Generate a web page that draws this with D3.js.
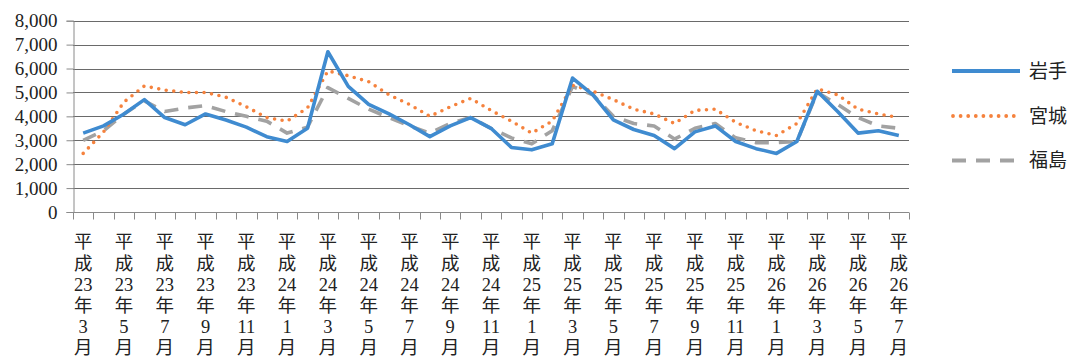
<!DOCTYPE html>
<html>
<head>
<meta charset="utf-8">
<script src="https://cdn.jsdelivr.net/npm/d3@7"></script>
<style>
  body { margin: 0; background: #fff; }
  text { font-family: "Liberation Serif", "Noto Sans CJK JP", serif; fill: #222; }
</style>
</head>
<body>
<svg id="chart" width="1072" height="359"></svg>
<script>
// months: 平成23年3月 .. 平成26年7月
const months = [];
for (let yr = 23; yr <= 26; yr++) {
    for (let m = 1; m <= 12; m++) {
        if ((yr === 23 && m < 3) || (yr === 26 && m > 7)) continue;
        months.push({ year: yr, month: m });
    }
}

const iwate = [3300, 3600, 4100, 4700, 3950, 3650, 4100, 3850, 3550, 3150, 2950, 3500,
    6700, 5250, 4500, 4100, 3650, 3150, 3600, 3950, 3500, 2700, 2600, 2850,
    5600, 4900, 3850, 3450, 3200, 2650, 3350, 3600, 2950, 2650, 2450, 2950,
    5050, 4200, 3300, 3400, 3200];
const miyagi = [2450, 3350, 4600, 5270, 5100, 5000, 5000, 4800, 4400, 3950, 3800, 4350,
    5900, 5700, 5450, 4900, 4500, 4000, 4400, 4750, 4250, 3800, 3300, 3800,
    5300, 5050, 4700, 4300, 4100, 3700, 4250, 4300, 3750, 3400, 3200, 3700,
    5150, 4900, 4300, 4100, 3950];
const fukushima = [3000, 3400, 4100, 4650, 4200, 4350, 4450, 4200, 4000, 3800, 3300, 3550,
    5200, 4750, 4300, 3950, 3600, 3300, 3700, 3950, 3500, 3100, 2850, 3400,
    5250, 4900, 4000, 3700, 3600, 3050, 3500, 3700, 3100, 2900, 2900, 2950,
    5000, 4500, 3950, 3600, 3500];

const yTicks = [0, 1000, 2000, 3000, 4000, 5000, 6000, 7000, 8000];

const series = [
    { name: "岩手", values: iwate, color: "#3f8bd0", dash: null, cap: "butt" },
    { name: "宮城", values: miyagi, color: "#f5823d", dash: "0,7.6", cap: "round" },
    { name: "福島", values: fukushima, color: "#a2a2a2", dash: "14,10", cap: "butt" }
];

const svg = d3.select("#chart");
const plotLeft = 73, plotRight = 909, plotTop = 20.7, plotBottom = 212;

const x = d3.scaleBand()
    .domain(d3.range(months.length))
    .range([plotLeft, plotRight])
    .paddingInner(0).paddingOuter(0);

const y = d3.scaleLinear()
    .domain([0, 8000])
    .range([plotBottom, plotTop]);

// gridlines
svg.append("g")
    .selectAll("line")
    .data(yTicks.filter(d => d > 0))
    .enter()
    .append("line")
    .attr("x1", plotLeft)
    .attr("x2", plotRight)
    .attr("y1", d => Math.round(y(d)) + 0.5)
    .attr("y2", d => Math.round(y(d)) + 0.5)
    .attr("stroke", "#6a6a6a")
    .attr("stroke-width", 1);

// y axis
const yAxis = svg.append("g")
    .attr("transform", "translate(" + (plotLeft + 0.5) + ",0)")
    .call(d3.axisLeft(y).tickValues(yTicks).tickSize(7).tickPadding(9)
        .tickFormat(d3.format(",")));
yAxis.selectAll("path, line").attr("stroke", "#8a8a8a");
yAxis.selectAll("text").style("font-size", "19px").attr("fill", "#222");

// x axis
const xAxisG = svg.append("g")
    .attr("transform", "translate(0," + (Math.round(plotBottom) + 0.5) + ")");
xAxisG.append("line")
    .attr("x1", plotLeft).attr("x2", plotRight)
    .attr("stroke", "#8a8a8a");
xAxisG.selectAll("line.tick")
    .data(d3.range(months.length + 1))
    .enter()
    .append("line")
    .attr("class", "tick")
    .attr("x1", d => Math.round(plotLeft + d * x.step()) + 0.5)
    .attr("x2", d => Math.round(plotLeft + d * x.step()) + 0.5)
    .attr("y1", 0)
    .attr("y2", 7)
    .attr("stroke", "#8a8a8a");

// x labels, vertical stack, every 2 months
const labelRows = d => ["平", "成", String(d.year), "年", String(d.month), "月"];
const labelG = svg.append("g");
months.forEach(function (m, i) {
    if (i % 2 !== 0) return;
    const cx = x(i) + x.bandwidth() / 2;
    labelRows(m).forEach(function (s, r) {
        labelG.append("text")
            .attr("x", cx)
            .attr("y", 242 + r * 21.2)
            .attr("dy", "0.35em")
            .attr("text-anchor", "middle")
            .style("font-size", "18.5px")
            .text(s);
    });
});

// lines
const line = d3.line()
    .x((d, i) => x(i) + x.bandwidth() / 2)
    .y(d => y(d));

svg.append("g")
    .selectAll("path")
    .data(series.slice().reverse())
    .enter()
    .append("path")
    .attr("d", d => line(d.values))
    .attr("fill", "none")
    .attr("stroke", d => d.color)
    .attr("stroke-width", 3.6)
    .attr("stroke-dasharray", d => d.dash)
    .attr("stroke-linecap", d => d.cap)
    .attr("stroke-linejoin", "round");

// legend
const legend = svg.append("g");
const legY = [71, 116, 160.5];
series.forEach(function (s, i) {
    legend.append("line")
        .attr("x1", s.cap === "round" ? 953 : 952)
        .attr("x2", 1020)
        .attr("y1", legY[i])
        .attr("y2", legY[i])
        .attr("stroke", s.color)
        .attr("stroke-width", 3.8)
        .attr("stroke-dasharray", s.dash)
        .attr("stroke-linecap", s.cap);
    legend.append("text")
        .attr("x", 1029)
        .attr("y", legY[i])
        .attr("dy", "0.35em")
        .style("font-size", "19px")
        .text(s.name);
});
</script>
</body>
</html>
